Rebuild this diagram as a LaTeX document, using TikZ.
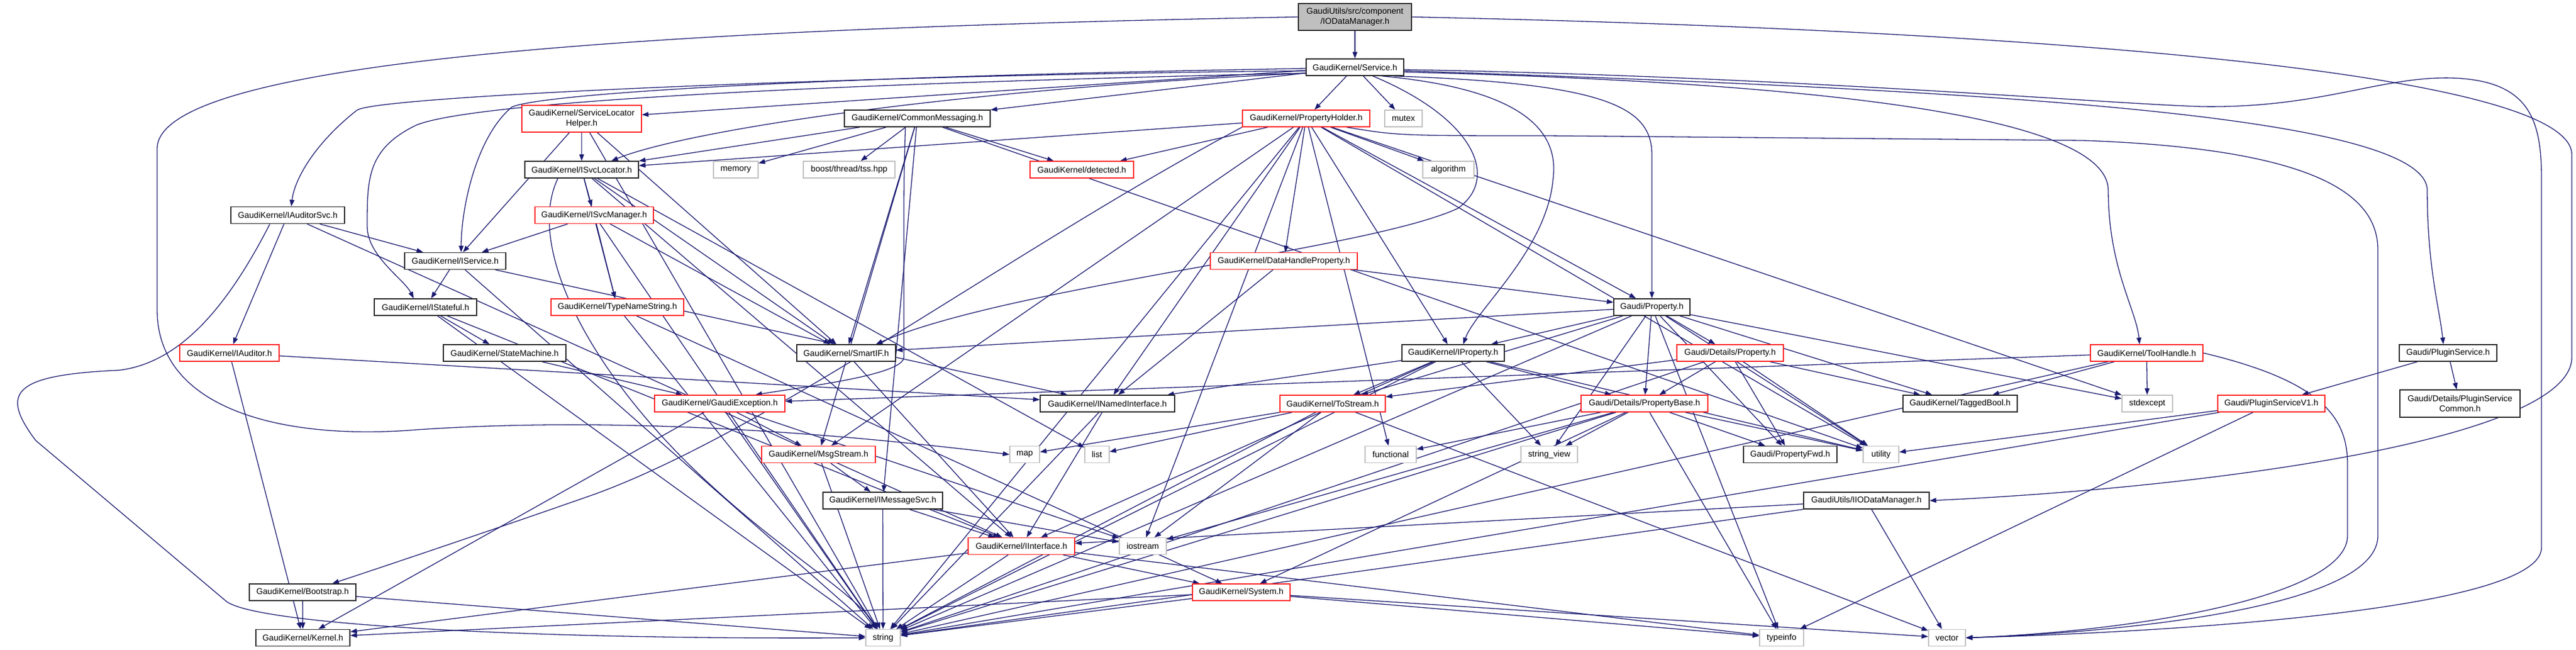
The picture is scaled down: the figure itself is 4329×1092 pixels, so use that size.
\documentclass[tikz,border=0pt]{standalone}
\usepackage{fontspec}
\setmainfont{Liberation Sans}
\usetikzlibrary{arrows.meta}
\definecolor{edgeblue}{HTML}{191970}
\definecolor{sysgray}{HTML}{BFBFBF}
\definecolor{incred}{HTML}{FF2020}
\pgfdeclarelayer{bg}
\pgfsetlayers{bg,main}
\begin{document}
\begin{tikzpicture}[x=1pt,y=-1pt,font=\fontsize{14.2}{17}\selectfont,
  box/.style={rectangle,inner sep=0pt,minimum height=28pt,align=center,fill=white},
  bk/.style={box,draw=black!85,line width=1.5pt},
  rd/.style={box,draw=incred,line width=1.4pt},
  sy/.style={box,draw=sysgray,line width=1.4pt},
  tp/.style={box,draw=black!85,fill=sysgray,line width=1.5pt},
  e/.style={draw=edgeblue,line width=1.3pt,-{Triangle[length=11pt,width=8pt]}}]
\useasboundingbox (0,0) rectangle (4329,1092);
% nodes
\node[tp,minimum width=190,minimum height=45] (top) at (2277,28.5) {GaudiUtils/src/component\\/IODataManager.h};
\node[bk,minimum width=164] (service) at (2277,113) {GaudiKernel/Service.h};
\node[rd,minimum width=214] (ph) at (2195,199) {GaudiKernel/PropertyHolder.h};
\node[sy,minimum width=63] (mutex) at (2358.5,199) {mutex};
\node[sy,minimum width=86] (algorithm) at (2434,285) {algorithm};
\node[rd,minimum width=201,minimum height=45] (slh) at (977.5,199.5) {GaudiKernel/ServiceLocator\\Helper.h};
\node[bk,minimum width=191] (isvcloc) at (977.5,285) {GaudiKernel/ISvcLocator.h};
\node[bk,minimum width=191] (iauditorsvc) at (483.5,361.5) {GaudiKernel/IAuditorSvc.h};
\node[rd,minimum width=199] (isvcmgr) at (998.5,361.5) {GaudiKernel/ISvcManager.h};
\node[bk,minimum width=245] (cm) at (1541.5,199) {GaudiKernel/CommonMessaging.h};
\node[sy,minimum width=75] (memory) at (1236.5,285) {memory};
\node[sy,minimum width=154] (tss) at (1427,285) {boost/thread/tss.hpp};
\node[rd,minimum width=174] (detected) at (1818,285) {GaudiKernel/detected.h};
\node[bk,minimum width=170] (iservice) at (765,438.5) {GaudiKernel/IService.h};
\node[bk,minimum width=172] (istateful) at (715,516) {GaudiKernel/IStateful.h};
\node[rd,minimum width=223] (typename) at (1037.5,516) {GaudiKernel/TypeNameString.h};
\node[rd,minimum width=167] (iauditor) at (385.5,593) {GaudiKernel/IAuditor.h};
\node[bk,minimum width=206] (statemachine) at (848,593) {GaudiKernel/StateMachine.h};
\node[bk,minimum width=166] (smartif) at (1422,593) {GaudiKernel/SmartIF.h};
\node[rd,minimum width=219] (gexc) at (1209.5,678) {GaudiKernel/GaudiException.h};
\node[bk,minimum width=226] (inamed) at (1861,678) {GaudiKernel/INamedInterface.h};
\node[rd,minimum width=247] (dhp) at (2157.5,438.5) {GaudiKernel/DataHandleProperty.h};
\node[bk,minimum width=128] (prop) at (2776,516) {Gaudi/Property.h};
\node[bk,minimum width=172] (iprop) at (2442,593) {GaudiKernel/IProperty.h};
\node[rd,minimum width=179] (dprop) at (2907.5,593) {Gaudi/Details/Property.h};
\node[rd,minimum width=177] (tostream) at (2239.5,678) {GaudiKernel/ToStream.h};
\node[rd,minimum width=213] (pbase) at (2763.5,678) {Gaudi/Details/PropertyBase.h};
\node[rd,minimum width=189] (toolhandle) at (3607.5,593) {GaudiKernel/ToolHandle.h};
\node[bk,minimum width=164] (pluginsvc) at (4114,593) {Gaudi/PluginService.h};
\node[bk,minimum width=192] (taggedbool) at (3294,678) {GaudiKernel/TaggedBool.h};
\node[sy,minimum width=85] (stdexcept) at (3608.5,678) {stdexcept};
\node[rd,minimum width=180] (psv1) at (3817,678) {Gaudi/PluginServiceV1.h};
\node[bk,minimum width=202,minimum height=46] (pscommon) at (4134,678) {Gaudi/Details/PluginService\\Common.h};
\node[bk,minimum width=179] (bootstrap) at (508.5,995) {GaudiKernel/Bootstrap.h};
\node[bk,minimum width=158] (kernel) at (509,1071.5) {GaudiKernel/Kernel.h};
\node[rd,minimum width=191] (msgstream) at (1375.5,763.5) {GaudiKernel/MsgStream.h};
\node[sy,minimum width=50] (map) at (1722,763.5) {map};
\node[sy,minimum width=41] (list) at (1843.5,763.5) {list};
\node[bk,minimum width=201] (imsgsvc) at (1483.5,841) {GaudiKernel/IMessageSvc.h};
\node[rd,minimum width=179] (iinterface) at (1716.5,917.5) {GaudiKernel/IInterface.h};
\node[sy,minimum width=79] (iostream) at (1920.5,917.5) {iostream};
\node[sy,minimum width=58] (string) at (1484,1071.5) {string};
\node[rd,minimum width=164] (system) at (2086,995) {GaudiKernel/System.h};
\node[sy,minimum width=86] (functional) at (2337,763.5) {functional};
\node[sy,minimum width=95] (strview) at (2603.5,763.5) {string\_view};
\node[bk,minimum width=157] (pfwd) at (3008.5,763.5) {Gaudi/PropertyFwd.h};
\node[sy,minimum width=74] (typeinfo) at (2994,1071.5) {typeinfo};
\node[bk,minimum width=211] (iiodm) at (3136.5,841) {GaudiUtils/IIODataManager.h};
\node[sy,minimum width=60] (utility) at (3161,763.5) {utility};
\node[sy,minimum width=62] (vector) at (3272,1071.5) {vector};
% edges
\begin{pgfonlayer}{bg}
\foreach \s/\t in {top/service,
  service/ph,service/mutex,service/slh,service/cm,
  slh/isvcloc,slh/iservice,slh/smartif,slh/string,
  cm/isvcloc,cm/memory,cm/tss,cm/detected,cm/smartif,cm/imsgsvc,cm/msgstream,cm/utility,
  ph/isvcloc,ph/detected,ph/algorithm,ph/dhp,ph/prop,ph/iprop,ph/inamed,ph/msgstream,ph/string,ph/iostream,ph/functional,ph/stdexcept,ph/utility,
  isvcloc/isvcmgr,isvcloc/typename,isvcloc/smartif,isvcloc/iinterface,isvcloc/list,
  isvcmgr/iservice,isvcmgr/typename,isvcmgr/smartif,isvcmgr/string,
  iauditorsvc/iservice,iauditorsvc/iauditor,iauditorsvc/iinterface,
  iservice/istateful,iservice/inamed,iservice/string,
  istateful/statemachine,istateful/string,istateful/iinterface,
  iauditor/kernel,iauditor/inamed,
  typename/system,typename/string,
  statemachine/gexc,
  gexc/kernel,gexc/msgstream,gexc/string,gexc/iostream,
  msgstream/imsgsvc,msgstream/string,
  imsgsvc/string,imsgsvc/iinterface,imsgsvc/iostream,
  smartif/iinterface,
  inamed/iinterface,inamed/string,
  iinterface/system,iinterface/kernel,iinterface/typeinfo,iinterface/string,
  system/kernel,system/string,system/typeinfo,system/vector,
  bootstrap/kernel,bootstrap/string,
  dhp/prop,dhp/inamed,
  prop/iprop,prop/dprop,prop/pbase,prop/tostream,prop/smartif,prop/taggedbool,prop/stdexcept,prop/string,prop/strview,prop/typeinfo,prop/utility,prop/pfwd,
  iprop/tostream,iprop/pbase,iprop/inamed,iprop/iinterface,iprop/string,iprop/strview,iprop/utility,
  dprop/pbase,dprop/tostream,dprop/string,dprop/pfwd,dprop/utility,dprop/taggedbool,
  pbase/functional,pbase/strview,pbase/pfwd,pbase/string,pbase/typeinfo,pbase/utility,pbase/iostream,pbase/system,
  tostream/map,tostream/list,tostream/iostream,tostream/string,tostream/vector,
  toolhandle/gexc,toolhandle/taggedbool,toolhandle/stdexcept,toolhandle/string,
  pluginsvc/psv1,pluginsvc/pscommon,
  psv1/string,psv1/typeinfo,psv1/utility,
  iiodm/iinterface,iiodm/string,iiodm/vector}
  \draw[e] (\s) -- (\t);
% routed edges
\draw[e] ([yshift=-10pt]service.west) .. controls (1600,150) and (1150,220) .. ([xshift=50pt]isvcloc.north);
\draw[e] ([xshift=-40pt]isvcloc.south) .. controls (880,420) and (1000,640) .. (1200,820) .. controls (1320,930) and (1440,1000) .. ([xshift=-10pt]string.north);
\draw[e] (ph.south west) .. controls (1700,420) and (1300,720) .. (1000,830) .. controls (800,900) and (620,960) .. ([xshift=50pt]bootstrap.north);
\draw[e] (top.west) .. controls (1000,50) and (264,110) .. (264,250) -- (264,520) .. controls (264,690) and (480,740) .. (700,722) .. controls (1100,695) and (1500,740) .. (map.west);
\draw[e] (top.east) .. controls (3400,50) and (4322,120) .. (4322,260) -- (4322,600) .. controls (4322,740) and (3700,820) .. (iiodm.east);
\draw[e] ([yshift=-4pt]service.east) .. controls (3000,128) and (3550,175) .. (3700,179) .. controls (3900,182) and (4000,128) .. (4120,131) .. controls (4250,135) and (4271,200) .. (4271,300) -- (4271,920) .. controls (4271,1020) and (3700,1060) .. (vector.east);
\draw[e] ([yshift=-8pt]service.east) .. controls (3100,140) and (3543,200) .. (3543,320) .. controls (3543,450) and (3590,520) .. ([xshift=-12pt]toolhandle.north);
\draw[e] ([yshift=-6pt]service.east) .. controls (3300,150) and (4079,190) .. (4079,320) .. controls (4079,450) and (4100,520) .. ([xshift=-8pt]pluginsvc.north);
\draw[e] ([xshift=-40pt]ph.south east) .. controls (2350,228) .. (2600,228) -- (3500,236) .. controls (3900,250) and (3996,330) .. (3996,420) -- (3996,900) .. controls (3996,1030) and (3500,1065) .. (vector.east);
\draw[e] (toolhandle.east) .. controls (3900,640) and (3945,700) .. (3945,780) -- (3945,900) .. controls (3945,1000) and (3600,1060) .. (vector.east);
\draw[e] ([yshift=-6pt]service.west) .. controls (1500,125) and (640,160) .. (600,185) .. controls (530,240) and (495,300) .. ([xshift=6pt]iauditorsvc.north);
\draw[e] ([yshift=-10pt]service.west) .. controls (1400,140) and (800,170) .. (700,210) .. controls (617,250) and (617,300) .. (617,380) .. controls (617,430) and (680,470) .. ([xshift=-20pt]istateful.north);
\draw[e] ([yshift=-2pt]service.west) .. controls (1300,130) and (900,160) .. (860,180) .. controls (800,230) and (775,350) .. ([xshift=10pt]iservice.north);
\draw[e] ([xshift=30pt]service.south) .. controls (2480,200) and (2520,300) .. (2450,350) .. controls (2300,420) and (1700,480) .. ([xshift=50pt]smartif.north);
\draw[e] ([xshift=45pt]service.south) .. controls (2560,150) and (2620,220) .. (2610,300) .. controls (2600,420) and (2480,520) .. ([xshift=17pt]iprop.north);
\draw[e] ([xshift=65pt]service.south) .. controls (2700,140) and (2776,180) .. (2776,260) -- (prop.north);
\draw[e] ([xshift=-30pt]iauditorsvc.south) .. controls (380,520) and (300,610) .. (200,622) .. controls (20,630) and (0,660) .. (60,740) -- (380,1010) .. controls (430,1050) and (900,1075) .. (string.west);
\draw[e] ([xshift=-20pt]cm.south) .. controls (1519,300) .. (1519,400) -- (1519,600) .. controls (1519,630) and (1350,650) .. ([xshift=60pt]gexc.north);
\end{pgfonlayer}
\end{tikzpicture}
\end{document}
